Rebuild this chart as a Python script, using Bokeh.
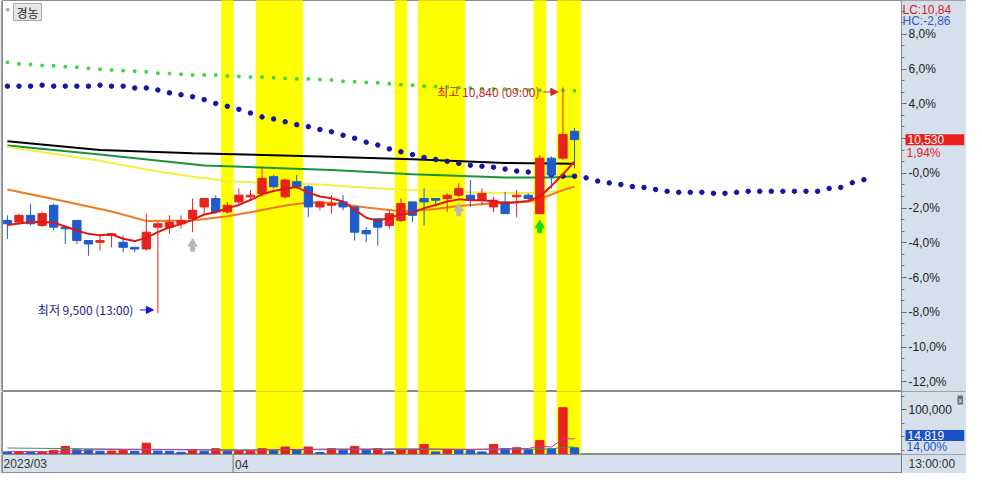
import numpy as np
from bokeh.plotting import figure
from bokeh.layouts import column
from bokeh.models import (ColumnDataSource, FixedTicker, CustomJSTickFormatter,
                          NumeralTickFormatter, Label, Arrow, NormalHead, Range1d)
from bokeh.core.properties import value
from bokeh.embed import file_html
from bokeh.resources import INLINE

# ---------------- data ----------------
stock_name = "경농"
base_price = 10330          # 0.0 % reference price
opens  = [10050, 10040, 10080, 10020, 10140, 10010, 10050, 9930, 9920, 9960,
          9920, 9890, 9880, 10010, 10010, 10030, 10060, 10130, 10180, 10100,
          10160, 10190, 10210, 10310, 10190, 10280, 10250, 10130, 10140, 10160,
          10130, 9990, 10060, 10020, 10050, 10160, 10180, 10180, 10180, 10200,
          10200, 10170, 10130, 10160, 10190, 10200, 10090, 10420, 10420, 10580]
highs  = [10080, 10090, 10150, 10100, 10150, 10010, 10050, 9930, 9970, 9970,
          9960, 9890, 10090, 10040, 10080, 10080, 10180, 10180, 10200, 10160,
          10240, 10230, 10370, 10320, 10300, 10320, 10260, 10160, 10200, 10200,
          10130, 10010, 10060, 10110, 10180, 10160, 10240, 10180, 10210, 10270,
          10290, 10240, 10190, 10220, 10230, 10210, 10440, 10430, 10840, 10600]
lows   = [9940, 10030, 10020, 10010, 9990, 9910, 9910, 9840, 9870, 9890,
          9860, 9860, 9870, 9500, 9970, 10000, 9980, 10090, 10090, 10090,
          10140, 10170, 10190, 10240, 10180, 10240, 10070, 10110, 10090, 10110,
          9930, 9920, 9900, 10000, 10040, 10040, 10020, 10130, 10100, 10190,
          10130, 10140, 10100, 10090, 10070, 10170, 10090, 10240, 10410, 10360]
closes = [10030, 10080, 10030, 10090, 10010, 10000, 9930, 9910, 9930, 9970,
          9890, 9880, 9980, 10030, 10040, 10050, 10110, 10180, 10100, 10140,
          10200, 10200, 10300, 10250, 10290, 10250, 10130, 10160, 10150, 10130,
          9980, 9970, 10010, 10090, 10150, 10080, 10160, 10170, 10200, 10240,
          10170, 10210, 10170, 10090, 10200, 10180, 10420, 10320, 10560, 10530]
volumes = [5800, 6500, 4300, 5400, 9300, 18000, 10800, 10400, 7100, 7600,
           8700, 7100, 25300, 7600, 7100, 5000, 8700, 7100, 13000, 7100,
           7600, 8000, 13000, 8700, 16700, 10800, 16700, 4300, 13000, 9300,
           18000, 9300, 13000, 5800, 10800, 11300, 22300, 5800, 10800, 9300,
           8700, 5800, 22300, 13000, 15100, 10800, 31000, 13000, 104500, 14819]

ma5 = [10022, 10032, 10041, 10040, 10037, 10014, 9990, 9970, 9961, 9967,
       9941, 9927, 9946, 9980, 10009, 10028, 10053, 10085, 10099, 10123,
       10142, 10171, 10205, 10225, 10238, 10248, 10215, 10192, 10181, 10162,
       10114, 10066, 10047, 10066, 10085, 10095, 10123, 10142, 10162, 10175,
       10169, 10169, 10164, 10152, 10158, 10166, 10192, 10255, 10324, 10399]

ma_orange_idx = [0, 5, 9, 12, 16, 19, 21, 24, 26, 28, 31, 34, 37, 39, 42, 45, 46, 47, 48, 49]
ma_orange = [10234, 10162, 10103, 10047, 10049, 10075, 10098, 10138, 10156, 10155,
             10126, 10104, 10118, 10135, 10152, 10161, 10175, 10204, 10230, 10251]
ma_yellow_idx = [0, 8, 12, 16, 19, 23, 27, 31, 35, 39, 43, 46, 47, 48, 49]
ma_yellow = [10487, 10405, 10353, 10310, 10284, 10270, 10263, 10244, 10230, 10218,
             10213, 10215, 10221, 10227, 10232]
ma_green_idx = [0, 8, 17, 23, 28, 35, 43, 47, 49]
ma_green = [10495, 10442, 10376, 10362, 10350, 10324, 10305, 10305, 10313]
ma_black_idx = [0, 8, 16, 27, 35, 43, 49]
ma_black = [10521, 10468, 10449, 10430, 10413, 10391, 10386]

span_blue = [10848, 10848, 10848, 10854, 10848, 10848, 10848, 10848, 10854, 10848,
             10848, 10837, 10837, 10825, 10808, 10797, 10785, 10768, 10745, 10728,
             10710, 10688, 10665, 10653, 10636, 10619, 10607, 10590, 10577, 10556,
             10538, 10515, 10498, 10475, 10458, 10441, 10424, 10412, 10401, 10389,
             10378, 10372, 10366, 10355, 10343, 10338, 10330, 10321, 10313, 10313,
             10303, 10284, 10273, 10263, 10251, 10246, 10234, 10223, 10217, 10217,
             10217, 10211, 10211, 10217, 10223, 10223, 10223, 10223, 10223, 10223,
             10223, 10240, 10246, 10274, 10292]
span_green = [10990, 10980, 10977, 10971, 10969, 10963, 10960, 10954, 10948, 10944,
              10940, 10937, 10933, 10925, 10923, 10919, 10914, 10914, 10914, 10908,
              10906, 10902, 10902, 10898, 10894, 10891, 10891, 10887, 10885, 10877,
              10874, 10870, 10868, 10862, 10856, 10854, 10848, 10845, 10843, 10839,
              10837, 10833, 10831, 10829, 10827, 10825, 10824, 10824, 10822, 10820]

vol_ma5_idx = [0, 4, 8, 12, 16, 20, 24, 28, 32, 36, 40, 44, 45, 46, 47, 48, 49]
vol_ma5 = [7000, 6300, 11000, 11000, 10500, 8700, 10800, 12300, 12500, 12600,
           11400, 13000, 13400, 19000, 16500, 35000, 35000]
vol_ma20_idx = [0, 10, 20, 30, 40, 45, 46, 47, 48, 49]
vol_ma20 = [14500, 12000, 10500, 11000, 11500, 11800, 12300, 12300, 16000, 16900]

highlight_idx = [19, 22, 23, 24, 25, 34, 36, 37, 38, 39, 46, 48, 49]
signal_idx = [16, 39, 46]
signal_type = ["weak", "weak", "strong"]

date_idx = [0, 20]
date_labels = ["2023/03", "04"]
high_time = "09:00"
low_time = "13:00"
lc_text = "LC:10,84"
hc_text = "HC:-2,86"
vol_ratio_text = "14,00%"
time_label = "13:00:00"

# ---------------- layout / style ----------------
W, LB, RP = 966, 2, 65          # total width, left border, right panel width
FW = W - LB                     # frame width (includes the right panel)
CW = FW - RP                    # chart area width
H_MAIN, H_VOL, H_DATE = 391, 63, 19
PANEL = "#d6e0ec"
RED, BLUE = "#e8231e", "#1e5ccd"
NUM_FONT = "Liberation Sans"
KR_FONT = "Noto Sans CJK KR"
OUTLINE = "#8c8c8c"

n = len(closes)
xs = list(range(n))
XS, XB = -0.424, 77.25                 # chart start / chart-panel boundary (index units)
px_per_idx = CW / (XB - XS)
XE = XB + RP / px_per_idx
x_range = Range1d(XS, XE)
y0, y1 = 9033, 11357
px_per_won = H_MAIN / (y1 - y0)
V1 = 140700

ccol = [RED if c > o else BLUE for o, c in zip(opens, closes)]
src = ColumnDataSource(dict(
    x=xs, h=highs, l=lows,
    top=[max(o, c) for o, c in zip(opens, closes)],
    bot=[min(o, c) for o, c in zip(opens, closes)],
    col=ccol))


def make_fig(height, yr, with_axis=True):
    f = figure(width=W, height=height, x_range=x_range, y_range=yr,
               output_backend="svg", toolbar_location=None,
               x_axis_location=None, y_axis_location="right" if with_axis else None,
               min_border_left=LB, min_border_right=0, min_border_top=0, min_border_bottom=0)
    f.grid.visible = False
    f.background_fill_color = "white"
    f.border_fill_color = "#a4a4a4"
    f.outline_line_color = OUTLINE
    f.quad(left=XB, right=XE, bottom=yr.start, top=yr.end, fill_color=PANEL, line_color=None)
    if with_axis:
        ax = f.yaxis[0]
        ax.fixed_location = XB
        ax.axis_line_color = OUTLINE
        ax.major_tick_in = 0
        ax.major_tick_out = 5
        ax.minor_tick_in = 0
        ax.minor_tick_out = 3
        ax.major_tick_line_color = "#555555"
        ax.minor_tick_line_color = "#777777"
        ax.major_label_text_font = NUM_FONT
        ax.major_label_text_font_size = "12px"
        ax.major_label_text_color = "#222222"
        ax.major_label_standoff = 2
    return f


# ---------------- main price panel ----------------
p = make_fig(H_MAIN, Range1d(y0, y1))
pct_ticks = [base_price * (1 + k / 100) for k in range(-12, 10, 2)]
pct_minor = [base_price * (1 + k / 100) for k in np.arange(-12.0 - 2/3, 10.0, 2/3)]
ay = p.yaxis[0]
ay.ticker = FixedTicker(ticks=pct_ticks, minor_ticks=pct_minor)
ay.formatter = CustomJSTickFormatter(args=dict(base=base_price), code="""
    const v = (tick / base - 1) * 100;
    const s = Math.abs(v) < 0.05 ? '-0,0' : v.toFixed(1).replace('.', ',');
    return s + '%';
""")

p.vbar(x=highlight_idx, width=1, bottom=y0, top=y1, fill_color="#ffff00", line_color="#ffff00")

p.line(ma_black_idx, ma_black, color="black", line_width=2)
p.line(ma_green_idx, ma_green, color="#17953a", line_width=2)
p.line(ma_yellow_idx, ma_yellow, color="#f2f03c", line_width=2)
p.line(ma_orange_idx, ma_orange, color="#f27a1e", line_width=2)

p.scatter(list(range(len(span_green))), span_green, marker="square", size=2.5,
          color="#3cd83c")
p.scatter(list(range(len(span_blue))), span_blue, marker="circle", size=4.5,
          color="#1414a6")

p.segment(x0="x", y0="h", x1="x", y1="l", color="col", line_width=1, source=src)
p.vbar(x="x", width=0.72, top="top", bottom="bot", fill_color="col", line_color="col", source=src)

p.line(xs, ma5, color="#e41414", line_width=2)

# signal arrows below the candle's low
sig_col = ["#b8b8b8" if k == "weak" else "#18d818" for k in signal_type]
sig_low = [lows[i] for i in signal_idx]
p.scatter(signal_idx, [l - 11.5 / px_per_won for l in sig_low], marker="triangle",
          size=9, color=sig_col)
p.rect(signal_idx, [l - 16.5 / px_per_won for l in sig_low], width=4, height=5,
       width_units="screen", height_units="screen", color=sig_col)

# high / low annotations
i_hi = int(np.argmax(highs))
i_lo = int(np.argmin(lows))
HI_COL, LO_COL = "#c8281e", "#1c1c8c"
p.text(x=[i_hi], y=[highs[i_hi]], text=[f"최고 {highs[i_hi]:,} ({high_time})"],
       x_offset=-23.5, y_offset=4, text_align="right", text_baseline="middle",
       text_font=value(KR_FONT), text_font_size="12px", text_color=HI_COL)
p.add_layout(Arrow(end=NormalHead(size=7, fill_color="#e02020", line_color="#e02020"),
                   x_start=i_hi - 19.5 / px_per_idx, x_end=i_hi - 5 / px_per_idx,
                   y_start=highs[i_hi] - 4.5 / px_per_won, y_end=highs[i_hi] - 4.5 / px_per_won,
                   line_color="#e02020", line_width=1))
p.text(x=[i_lo], y=[lows[i_lo]], text=[f"최저 {lows[i_lo]:,} ({low_time})"],
       x_offset=-24.5, y_offset=-3, text_align="right", text_baseline="middle",
       text_font=value(KR_FONT), text_font_size="12px", text_color=LO_COL)
p.add_layout(Arrow(end=NormalHead(size=7, fill_color="#1010d8", line_color="#1010d8"),
                   x_start=i_lo - 18 / px_per_idx, x_end=i_lo - 4.5 / px_per_idx,
                   y_start=lows[i_lo] + 3 / px_per_won, y_end=lows[i_lo] + 3 / px_per_won,
                   line_color="#1010d8", line_width=1))

# name box
p.add_layout(Label(x=3, y=H_MAIN - 5, x_units="screen", y_units="screen", text="■",
                   text_font_size="7px", text_color="#b0b0b0", text_baseline="top"))
p.add_layout(Label(x=11, y=H_MAIN - 3, x_units="screen", y_units="screen", text=stock_name,
                   text_font=KR_FONT, text_font_size="12px", text_color="#222222",
                   text_baseline="top", background_fill_color="#e6e6e6",
                   border_line_color="#a8a8a8", padding=dict(left=3, right=3, top=0, bottom=0)))

# right panel labels
p.add_layout(Label(x=CW + 1, y=H_MAIN - 2, x_units="screen", y_units="screen", text=lc_text,
                   text_font=NUM_FONT, text_font_size="12px", text_color="#d42020",
                   text_baseline="top"))
p.add_layout(Label(x=CW + 1, y=H_MAIN - 13, x_units="screen", y_units="screen", text=hc_text,
                   text_font=NUM_FONT, text_font_size="12px", text_color="#2a5cbf",
                   text_baseline="top"))
last = closes[-1]
p.add_layout(Label(x=CW + 4, y=last, x_units="screen", y_units="data", text=f"{last:,}",
                   text_font=NUM_FONT, text_font_size="12px", text_color="white",
                   text_baseline="middle", background_fill_color="#e8211e",
                   padding=dict(left=2, right=20, top=1, bottom=1)))
p.add_layout(Label(x=CW + 5, y=last, y_offset=-13, x_units="screen", y_units="data",
                   text=f"{(last / base_price - 1) * 100:.2f}%".replace(".", ","),
                   text_font=NUM_FONT, text_font_size="12px", text_color="#e8211e",
                   text_baseline="middle"))

# ---------------- volume panel ----------------
pv = make_fig(H_VOL, Range1d(0, V1))
av = pv.yaxis[0]
av.ticker = FixedTicker(ticks=[100000], minor_ticks=[130000, 70000, 40000, 10000])
av.formatter = NumeralTickFormatter(format="0,0")

pv.vbar(x=highlight_idx, width=1, bottom=0, top=V1, fill_color="#ffff00", line_color="#ffff00")
vcol = [BLUE if i == 0 or volumes[i] <= volumes[i - 1] else RED for i in range(n)]
pv.vbar(x=xs, width=0.72, top=volumes, bottom=0, fill_color=vcol, line_color=vcol)
pv.line(vol_ma20_idx, vol_ma20, color="#2aa040", line_width=1)
pv.line(vol_ma5_idx, vol_ma5, color="#d02cb0", line_width=1)

pv.add_layout(Label(x=CW + 4, y=H_VOL - 44, x_units="screen", y_units="screen",
                    text=f"{volumes[-1]:,}", text_font=NUM_FONT, text_font_size="12px",
                    text_color="white", text_baseline="middle", background_fill_color="#1c50c8",
                    padding=dict(left=2, right=20, top=1, bottom=1)))
pv.add_layout(Label(x=CW + 5, y=H_VOL - 55, x_units="screen", y_units="screen",
                    text=vol_ratio_text, text_font=NUM_FONT, text_font_size="12px",
                    text_color="#1c50c8", text_baseline="middle"))
pv.add_layout(Label(x=CW + 56, y=H_VOL - 4, x_units="screen", y_units="screen", text="x",
                    text_font=NUM_FONT, text_font_size="7px", text_color="white",
                    text_baseline="top", background_fill_color="#6e6e6e",
                    padding=1))

# ---------------- date strip ----------------
pdt = make_fig(H_DATE, Range1d(0, 1), with_axis=False)
pdt.background_fill_color = PANEL
bx = [i - 0.5 for i in date_idx]
pdt.segment(x0=bx[1:] + [XB], y0=0, x1=bx[1:] + [XB], y1=1, color="#777777", line_width=1)
pdt.text(x=bx, y=[0.5] * len(bx), text=date_labels, x_offset=2,
         text_align="left", text_baseline="middle", text_font=value(NUM_FONT),
         text_font_size="12px", text_color="#333333")
pdt.add_layout(Label(x=CW + 7, y=H_DATE / 2, x_units="screen", y_units="screen",
                     text=time_label, text_font=NUM_FONT, text_font_size="12px",
                     text_color="#333333", text_baseline="middle"))

layout = column(p, pv, pdt, spacing=0)
open("out.html", "w").write(file_html(layout, INLINE))
